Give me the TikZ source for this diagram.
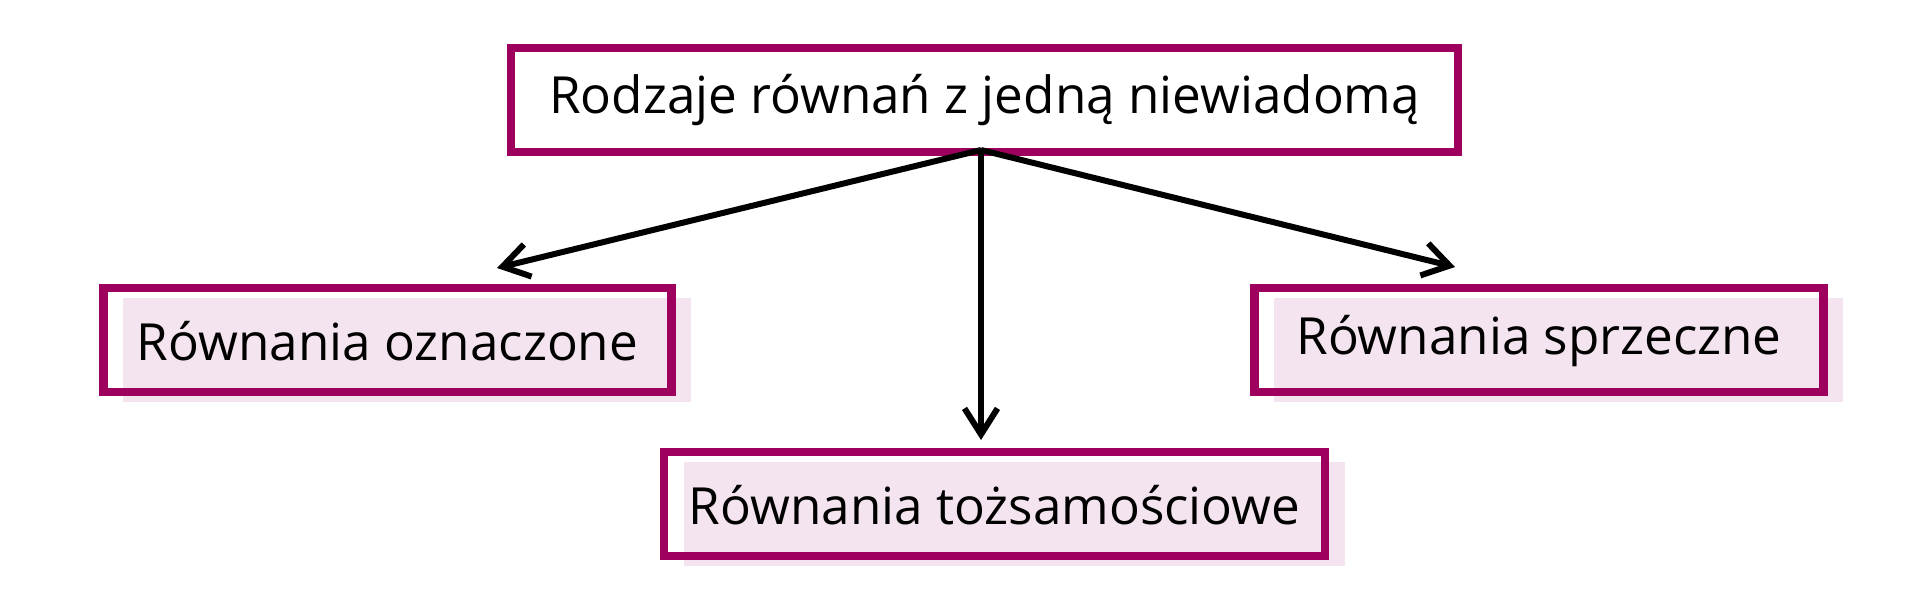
\documentclass[tikz,border=0pt]{standalone}
\usepackage{fontspec}
\setmainfont{Open Sans}
\usetikzlibrary{arrows.meta,backgrounds}
\definecolor{boxc}{RGB}{158,0,94}
\definecolor{shadc}{RGB}{244,228,239}
\begin{document}
\begin{tikzpicture}[x=0.5pt,y=-0.5pt,
  box/.style={draw=boxc, line width=4.25pt, minimum height=52pt, inner sep=0pt, outer sep=0pt,
    font=\fontsize{25.6pt}{30pt}\selectfont, text depth=0pt},
  shad/.style={fill=shadc, draw=none},
  arr/.style={line width=3pt, line join=miter, -{Straight Barb[length=13pt,width=16.5pt]}}]
\useasboundingbox (0,0) rectangle (1920,601);
\node[box, minimum width=473.5pt, text height=13pt] (top) at (984.5,100) {Rodzaje równań z jedną niewiadomą};
\node[box, minimum width=284pt, text height=20pt] (l) at (387.5,340) {Równania oznaczone};
\node[box, minimum width=284.5pt, text height=14pt] (r) at (1539,340) {Równania sprzeczne};
\node[box, minimum width=330.5pt, text height=20pt] (m) at (994.5,504) {Równania tożsamościowe};
\begin{scope}[on background layer]
  \foreach \n in {l,r,m}{
    \fill[shadc] ([shift={(19.5,10)}]\n.south west) rectangle ([shift={(19.5,10)}]\n.north east);
  }
\end{scope}
\coordinate (o) at (981,150);
\coordinate (tl) at (497,268);
\coordinate (tm) at (981,440);
\coordinate (tr) at (1455,267);
\draw[arr] (o) -- (tl);
\draw[arr] (o) -- (tm);
\draw[arr] (o) -- (tr);
\end{tikzpicture}
\end{document}
